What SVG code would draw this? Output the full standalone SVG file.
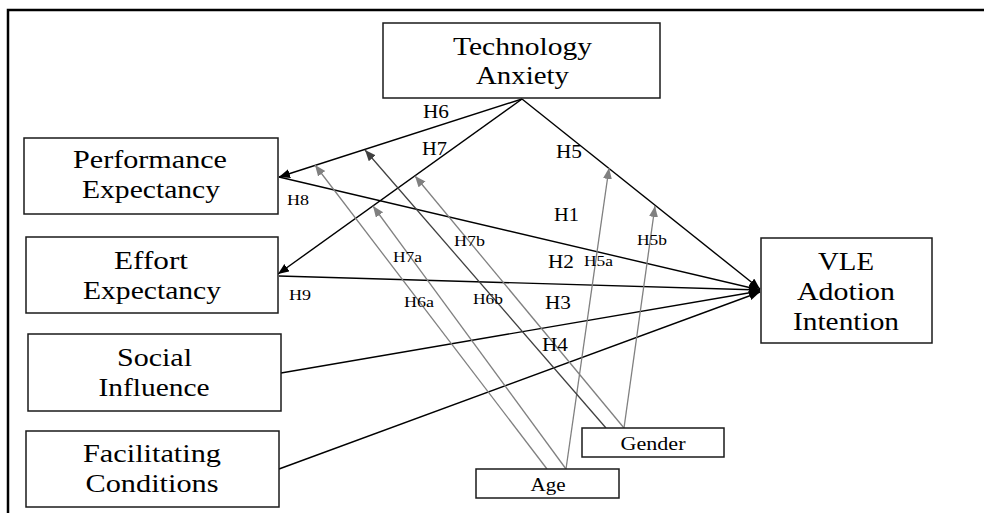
<svg xmlns="http://www.w3.org/2000/svg" width="984" height="513" viewBox="0 0 984 513">
<defs>
<marker id="ab" markerUnits="userSpaceOnUse" markerWidth="12" markerHeight="10" refX="11" refY="4.5" orient="auto"><path d="M0,0 L11,4.5 L0,9 z" fill="#000"/></marker>
<marker id="ag" markerUnits="userSpaceOnUse" markerWidth="12" markerHeight="10" refX="11" refY="4.5" orient="auto"><path d="M0,0 L11,4.5 L0,9 z" fill="#808080"/></marker>
<marker id="ad" markerUnits="userSpaceOnUse" markerWidth="12" markerHeight="10" refX="11" refY="4.5" orient="auto"><path d="M0,0 L11,4.5 L0,9 z" fill="#404040"/></marker>
</defs>
<style>
text{font-family:'Liberation Serif',Tinos,'Nimbus Roman','Times New Roman',Times,serif;fill:#000}
.box{fill:#fff;stroke:#1a1a1a;stroke-width:1.5}
.t{text-anchor:middle}
.big{font-size:25px}
.vle{font-size:26px}
.mod{font-size:19px}
.hl{font-size:19px}
.hs{font-size:14.5px}
.bl{stroke:#000;stroke-width:1.4;fill:none}
.gr{stroke:#808080;stroke-width:1.3;fill:none}
.dk{stroke:#404040;stroke-width:1.3;fill:none}
</style>
<rect width="984" height="513" fill="#fff"/>
<path d="M8,513 L8,10 L984,10" fill="none" stroke="#000" stroke-width="2.5"/>

<g id="connectors">
<line class="bl" x1="522" y1="99" x2="279" y2="177" marker-end="url(#ab)"/>
<line class="bl" x1="522" y1="99" x2="278" y2="274" marker-end="url(#ab)"/>
<line class="bl" x1="522" y1="99" x2="760" y2="289" marker-end="url(#ab)"/>
<line class="bl" x1="279" y1="177" x2="760" y2="290" marker-end="url(#ab)"/>
<line class="bl" x1="279" y1="276" x2="760" y2="290" marker-end="url(#ab)"/>
<line class="bl" x1="281" y1="373" x2="760" y2="291" marker-end="url(#ab)"/>
<line class="bl" x1="279" y1="469" x2="760" y2="292" marker-end="url(#ab)"/>
<line class="gr" x1="547" y1="469" x2="315" y2="165" marker-end="url(#ag)"/>
<line class="gr" x1="566" y1="469" x2="373" y2="206" marker-end="url(#ag)"/>
<line class="gr" x1="566" y1="469" x2="609" y2="168" marker-end="url(#ag)"/>
<line class="dk" x1="606" y1="428" x2="365" y2="150" marker-end="url(#ad)"/>
<line class="gr" x1="624" y1="428" x2="415" y2="176" marker-end="url(#ag)"/>
<line class="gr" x1="624" y1="428" x2="655" y2="206" marker-end="url(#ag)"/>
</g>

<g id="labels">
<text class="hl" x="423" y="118" textLength="26" lengthAdjust="spacingAndGlyphs">H6</text>
<text class="hl" x="422" y="155" textLength="25" lengthAdjust="spacingAndGlyphs">H7</text>
<text class="hl" x="556" y="158" textLength="26" lengthAdjust="spacingAndGlyphs">H5</text>
<text class="hl" x="554" y="221" textLength="25" lengthAdjust="spacingAndGlyphs">H1</text>
<text class="hl" x="548" y="268" textLength="26" lengthAdjust="spacingAndGlyphs">H2</text>
<text class="hl" x="545" y="309" textLength="26" lengthAdjust="spacingAndGlyphs">H3</text>
<text class="hl" x="542" y="351" textLength="26" lengthAdjust="spacingAndGlyphs">H4</text>
<text class="hs" x="637" y="245" textLength="30" lengthAdjust="spacingAndGlyphs">H5b</text>
<text class="hs" x="584" y="266" textLength="29" lengthAdjust="spacingAndGlyphs">H5a</text>
<text class="hs" x="454" y="246" textLength="31" lengthAdjust="spacingAndGlyphs">H7b</text>
<text class="hs" x="287" y="205" textLength="22" lengthAdjust="spacingAndGlyphs">H8</text>
<text class="hs" x="289" y="300" textLength="22" lengthAdjust="spacingAndGlyphs">H9</text>
<text class="hs" x="393" y="262" textLength="29" lengthAdjust="spacingAndGlyphs">H7a</text>
<text class="hs" x="404" y="307" textLength="30" lengthAdjust="spacingAndGlyphs">H6a</text>
<text class="hs" x="473" y="304" textLength="30" lengthAdjust="spacingAndGlyphs">H6b</text>
</g>

<g id="ta">
<rect class="box" x="383" y="23" width="277" height="75"/>
<text class="t big" x="522.5" y="55" textLength="139" lengthAdjust="spacingAndGlyphs">Technology</text>
<text class="t big" x="522.5" y="84" textLength="93" lengthAdjust="spacingAndGlyphs">Anxiety</text>
</g>
<g id="pe">
<rect class="box" x="24" y="138" width="254" height="76"/>
<text class="t big" x="150" y="168" textLength="154" lengthAdjust="spacingAndGlyphs">Performance</text>
<text class="t big" x="151" y="198" textLength="138" lengthAdjust="spacingAndGlyphs">Expectancy</text>
</g>
<g id="ee">
<rect class="box" x="26" y="237" width="252" height="76"/>
<text class="t big" x="151" y="269" textLength="74" lengthAdjust="spacingAndGlyphs">Effort</text>
<text class="t big" x="152" y="299" textLength="138" lengthAdjust="spacingAndGlyphs">Expectancy</text>
</g>
<g id="si">
<rect class="box" x="28" y="334" width="253" height="77"/>
<text class="t big" x="154.5" y="366" textLength="75" lengthAdjust="spacingAndGlyphs">Social</text>
<text class="t big" x="154" y="396" textLength="111" lengthAdjust="spacingAndGlyphs">Influence</text>
</g>
<g id="fc">
<rect class="box" x="26" y="431" width="253" height="76"/>
<text class="t big" x="152" y="462" textLength="138" lengthAdjust="spacingAndGlyphs">Facilitating</text>
<text class="t big" x="152" y="492" textLength="133" lengthAdjust="spacingAndGlyphs">Conditions</text>
</g>
<g id="vle">
<rect class="box" x="761" y="238" width="171" height="105"/>
<text class="t vle" x="846" y="270" textLength="56" lengthAdjust="spacingAndGlyphs">VLE</text>
<text class="t vle" x="846" y="300" textLength="98" lengthAdjust="spacingAndGlyphs">Adotion</text>
<text class="t vle" x="846" y="330" textLength="106" lengthAdjust="spacingAndGlyphs">Intention</text>
</g>
<g id="gender">
<rect class="box" x="582" y="428" width="142" height="29"/>
<text class="t mod" x="653" y="450" textLength="65" lengthAdjust="spacingAndGlyphs">Gender</text>
</g>
<g id="age">
<rect class="box" x="476" y="469" width="143" height="29"/>
<text class="t mod" x="548" y="491" textLength="35" lengthAdjust="spacingAndGlyphs">Age</text>
</g>
</svg>
